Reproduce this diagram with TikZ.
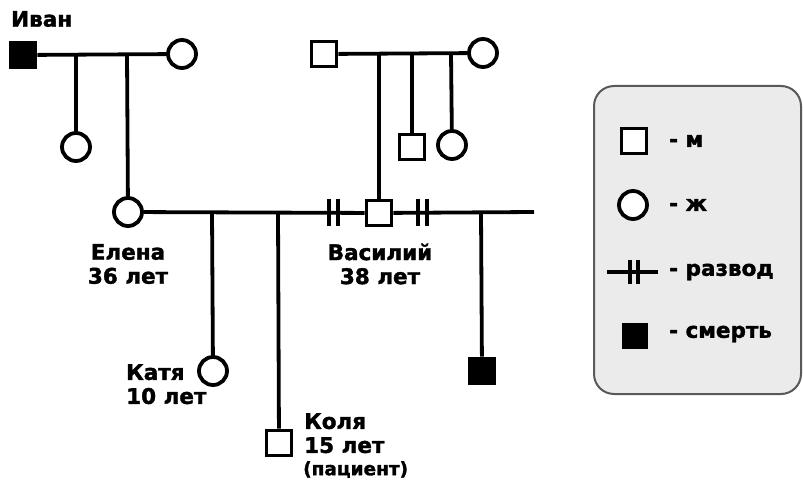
\documentclass[tikz,border=0pt]{standalone}
\usepackage{fontspec}
\setmainfont{DejaVu Sans}[BoldFeatures={FakeBold=1.6}]
\begin{document}
\begin{tikzpicture}[x=1pt,y=-1pt,
  lw/.style={line width=3.8pt},
  male/.style={draw,lw,rectangle,minimum size=25pt,inner sep=0pt,fill=white},
  female/.style={draw,lw,circle,minimum size=28pt,inner sep=0pt,fill=white},
  dead/.style={male,fill=black},
  rel/.style={lw},
  divmark/.style={line width=3.4pt},
  lab/.style={font=\bfseries\fontsize{21.5}{24}\selectfont,inner sep=0pt},
  small/.style={font=\bfseries\fontsize{18.5}{20}\selectfont,inner sep=0pt}]
\useasboundingbox (0,0) rectangle (803,481);
% legend background
\draw[fill=gray!16,draw=gray!70!black,line width=2pt,rounded corners=20pt] (594,86) rectangle (801,394);
% --- Ivan's family
\node[dead] (ivan) at (23,55) {};
\node[female] (ivanw) at (182,54) {};
\node[lab,anchor=west] (ivanlab) at (11,19) {Иван};
\draw[rel] (ivan) -- (ivanw);
\coordinate (k1) at (76,54);
\coordinate (k2) at (127,54);
\node[female] (aunt) at (76,147) {};
\node[female] (elena) at (128,212) {};
\draw[rel] (k1) -- (aunt);
\draw[rel] (k2) -- (elena);
% --- Vasily's parents
\node[male] (vf) at (324,54) {};
\node[female] (vm) at (483,53) {};
\draw[rel] (vf) -- (vm);
\coordinate (v1) at (379,53);
\coordinate (v2) at (412,53);
\coordinate (v3) at (451,53);
\node[male] (vasily) at (379,213) {};
\node[male] (uncle) at (412,147) {};
\node[female] (aunt2) at (452,145) {};
\draw[rel] (v1) -- (vasily);
\draw[rel] (v2) -- (uncle);
\draw[rel] (v3) -- (aunt2);
% --- main marriage line
\coordinate (mend) at (534,212);
\draw[rel] (elena) -- (vasily);
\draw[rel] (vasily) -- (mend);
\foreach \x in {329,338,418,427}{\draw[divmark] (\x,199) -- (\x,226);}
% children
\coordinate (c1) at (212,212);
\coordinate (c2) at (278,212);
\coordinate (c3) at (481,212);
\node[female] (katya) at (213,371) {};
\node[male] (kolya) at (279,443) {};
\node[dead] (dch) at (482,371) {};
\draw[rel] (c1) -- (katya);
\draw[rel] (c2) -- (kolya);
\draw[rel] (c3) -- (dch);
% labels
\node[lab,align=center] (elenalab) at (128,264) {Елена\\36 лет};
\node[lab,align=center] (vaslab) at (380,264) {Василий\\38 лет};
\node[lab,align=left,anchor=north west] (katlab) at (126,364) {Катя\\10 лет};
\node[lab,align=left,anchor=north west] (kollab) at (304,413) {Коля\\15 лет};
\node[small,anchor=north west] (patlab) at (303,461) {(пациент)};
% legend
\node[male] (lm) at (634,141) {};
\node[lab,anchor=west] (lmt) at (669,141) {- м};
\node[female,minimum size=28pt] (lf) at (633,205) {};
\node[lab,anchor=west] (lft) at (669,205) {- ж};
\coordinate (ld1) at (607,272);
\coordinate (ld2) at (658,272);
\draw[rel] (ld1) -- (ld2);
\foreach \x in {630,638}{\draw[divmark] (\x,260) -- (\x,284);}
\node[lab,anchor=west] (ldt) at (669,272) {- развод};
\node[dead,minimum size=23pt] (ld) at (635,336) {};
\node[lab,anchor=west] (ldtt) at (669,334) {- смерть};
\end{tikzpicture}
\end{document}
